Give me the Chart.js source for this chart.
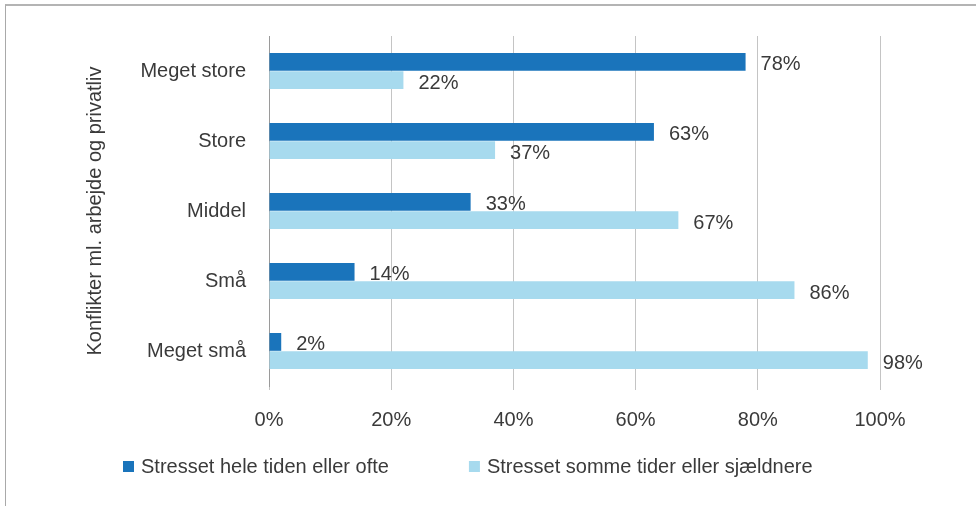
<!DOCTYPE html>
<html>
<head>
<meta charset="utf-8">
<script src="https://cdn.jsdelivr.net/npm/chart.js@4"></script>
<style>
  html, body { margin: 0; padding: 0; background: #fff; overflow: hidden; }
  #wrap { position: relative; width: 976px; height: 506px; }
  #frame {
    position: absolute; left: 5px; top: 4px; width: 1000px; height: 600px;
    border-top: 2px solid #b4b4b4; border-left: 1px solid #a9a9a9;
    pointer-events: none;
  }
</style>
</head>
<body>
<div id="wrap">
  <canvas id="conflictChart" width="976" height="506"></canvas>
  <div id="frame"></div>
</div>
<script>
// Stress level by degree of work/life conflict (percent of respondents)
const categories = ["Meget store", "Store", "Middel", "Små", "Meget små"];
const seriesNames = ["Stresset hele tiden eller ofte", "Stresset somme tider eller sjældnere"];
const oftenStressed = [78, 63, 33, 14, 2];
const sometimesStressed = [22, 37, 67, 86, 98];
const tickValues = [0, 20, 40, 60, 80, 100];

const COLORS = ["#1a74bb", "#a7daee"];
const TEXT = "#3a3a3a";
const FONT = "'Liberation Sans', Arial, sans-serif";
const SIZE = 20;

// value labels to the right of each bar
const valueLabels = {
  id: "valueLabels",
  afterDatasetsDraw(chart) {
    const ctx = chart.ctx;
    ctx.save();
    ctx.font = SIZE + "px " + FONT;
    ctx.fillStyle = TEXT;
    ctx.textAlign = "left";
    ctx.textBaseline = "middle";
    chart.data.datasets.forEach((ds, i) => {
      chart.getDatasetMeta(i).data.forEach((bar, j) => {
        ctx.fillText(ds.data[j] + "%", bar.x + 15, bar.y + 3);
      });
    });
    ctx.restore();
  }
};

// legend row under the axis
const bottomLegend = {
  id: "bottomLegend",
  afterDraw(chart) {
    const ctx = chart.ctx;
    ctx.save();
    ctx.font = SIZE + "px " + FONT;
    ctx.textBaseline = "middle";
    ctx.textAlign = "left";
    let x = 123;
    const y = 467;
    chart.data.datasets.forEach(ds => {
      ctx.fillStyle = ds.backgroundColor;
      ctx.fillRect(x, y - 6, 11, 11);
      ctx.fillStyle = TEXT;
      ctx.fillText(ds.label, x + 18, y);
      x += 18 + ctx.measureText(ds.label).width + 80;
    });
    ctx.restore();
  }
};

new Chart(document.getElementById("conflictChart"), {
  type: "bar",
  data: {
    labels: categories,
    datasets: [
      { label: seriesNames[0], data: oftenStressed, backgroundColor: COLORS[0] },
      { label: seriesNames[1], data: sometimesStressed, backgroundColor: COLORS[1] }
    ]
  },
  options: {
    indexAxis: "y",
    responsive: false,
    animation: false,
    events: [],
    layout: { padding: { top: 36, right: 96, bottom: 0, left: 0 } },
    datasets: { bar: { categoryPercentage: 0.52, barPercentage: 0.98 } },
    plugins: {
      legend: { display: false },
      tooltip: { enabled: false }
    },
    scales: {
      x: {
        min: 0,
        max: 100,
        afterBuildTicks: axis => { axis.ticks = tickValues.map(v => ({ value: v })); },
        afterFit: axis => { axis.height = 120; },
        grid: { color: "#c4c4c4", lineWidth: 1, tickLength: 4, drawTicks: true },
        border: { display: false },
        ticks: {
          padding: 18,
          color: TEXT,
          font: { family: FONT, size: SIZE },
          callback: v => v + "%"
        }
      },
      y: {
        afterFit: axis => { axis.width = 269; },
        grid: { display: false, drawTicks: false },
        border: { display: true, color: "#9a9a9a", width: 1 },
        ticks: {
          padding: 23,
          color: TEXT,
          font: { family: FONT, size: SIZE }
        },
        title: {
          display: true,
          text: "Konflikter ml. arbejde og privatliv",
          color: TEXT,
          font: { family: FONT, size: SIZE },
          padding: { top: 83, bottom: 0 }
        }
      }
    }
  },
  plugins: [valueLabels, bottomLegend]
});
</script>
</body>
</html>
